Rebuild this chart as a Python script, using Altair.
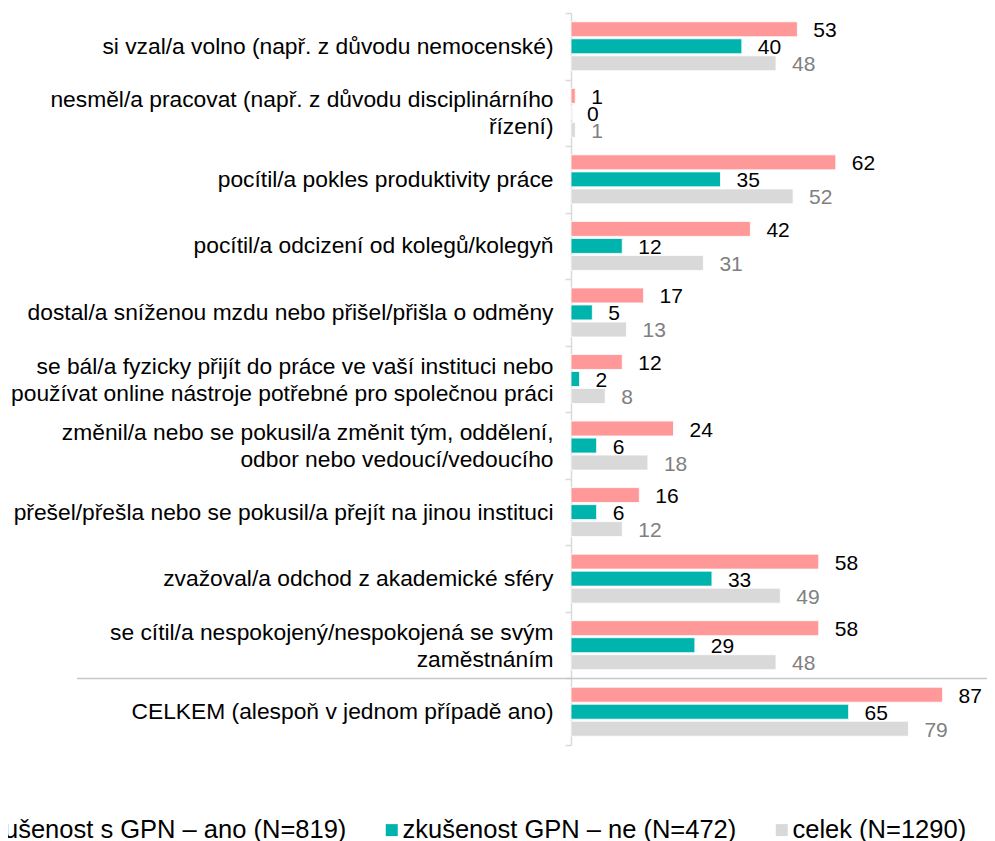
import altair as alt
import pandas as pd

categories = [
    "si vzal/a volno (např. z důvodu nemocenské)",
    "nesměl/a pracovat (např. z důvodu disciplinárního|řízení)",
    "pocítil/a pokles produktivity práce",
    "pocítil/a odcizení od kolegů/kolegyň",
    "dostal/a sníženou mzdu nebo přišel/přišla o odměny",
    "se bál/a fyzicky přijít do práce ve vaší instituci nebo|používat online nástroje potřebné pro společnou práci",
    "změnil/a nebo se pokusil/a změnit tým, oddělení,|odbor nebo vedoucí/vedoucího",
    "přešel/přešla nebo se pokusil/a přejít na jinou instituci",
    "zvažoval/a odchod z akademické sféry",
    "se cítil/a nespokojený/nespokojená se svým|zaměstnáním",
    "CELKEM (alespoň v jednom případě ano)",
]
series = [
    "zkušenost s GPN – ano (N=819)",
    "zkušenost GPN – ne (N=472)",
    "celek (N=1290)",
]
ano = [53, 1, 62, 42, 17, 12, 24, 16, 58, 58, 87]
ne = [40, 0, 35, 12, 5, 2, 6, 6, 33, 29, 65]
celek = [48, 1, 52, 31, 13, 8, 18, 12, 49, 48, 79]

colors = ["#ff9999", "#00b4ae", "#d9d9d9"]
FONT = "Liberation Sans"

rows = []
for i, c in enumerate(categories):
    for s, vals in zip(series, [ano, ne, celek]):
        rows.append({"kategorie": c, "skupina": s, "hodnota": vals[i]})
df = pd.DataFrame(rows)

y_enc = alt.Y(
    "kategorie:N",
    sort=categories,
    scale=alt.Scale(paddingInner=0, paddingOuter=0),
    axis=alt.Axis(
        title=None,
        labelExpr="isString(datum.value) ? split(datum.value, '|') : ''",
        labelOffset=alt.expr(
            "isString(datum.value) && indexof(datum.value, '|') >= 0 ? -13 : 0"
        ),
        tickBand="extent",
        labelFont=FONT,
        labelFontSize=22.8,
        labelColor="#000000",
        labelLineHeight=27,
        labelPadding=12,
        labelLimit=600,
        tickSize=6,
        tickColor="#d9d9d9",
        domainColor="#d9d9d9",
        domainWidth=1.5,
        tickWidth=1.5,
    ),
)
yoff = alt.YOffset(
    "skupina:N",
    sort=series,
    scale=alt.Scale(paddingInner=0.12, paddingOuter=0.515),
)
x_enc = alt.X("hodnota:Q", scale=alt.Scale(domain=[0, 97.4], nice=False), axis=None)

bars = alt.Chart(df).mark_bar(stroke="#ffffff", strokeWidth=0.8).encode(
    x=x_enc,
    y=y_enc,
    yOffset=yoff,
    color=alt.Color(
        "skupina:N",
        sort=series,
        scale=alt.Scale(domain=series, range=colors),
        legend=alt.Legend(
            title=None,
            orient="none",
            direction="horizontal",
            legendX=-616,
            legendY=804,
            symbolType="square",
            symbolSize=144,
            symbolStrokeWidth=0,
            labelFont=FONT,
            labelFontSize=25.5,
            labelBaseline="middle",
            labelColor="#000000",
            labelLimit=700,
            labelOffset=alt.expr("-2"),
            columnPadding=32,
        ),
    ),
)

labels = alt.Chart(df).mark_text(
    align="left", baseline="middle", dx=16, dy=2, font=FONT, fontSize=21
).encode(
    x=x_enc,
    y=y_enc,
    yOffset=yoff,
    text="hodnota:Q",
    color=alt.condition(
        alt.datum.skupina == series[2], alt.value("#808080"), alt.value("#000000")
    ),
)

sep = alt.Chart(pd.DataFrame({"kategorie": [categories[-1]]})).mark_rule(
    color="#c8c8c8", strokeWidth=1.5
).encode(
    y=alt.Y("kategorie:N", sort=categories, bandPosition=0),
    x=alt.value(-494),
    x2=alt.value(430),
)

chart = (
    alt.layer(bars, sep, labels)
    .properties(
        width=416,
        height=732,
        autosize=alt.AutoSizeParams(type="none"),
        padding={"left": 563, "top": 5, "right": 0, "bottom": 96},
    )
    .configure_view(stroke=None)
)

chart.save("out.html", embed_options={"renderer": "svg", "actions": False})
